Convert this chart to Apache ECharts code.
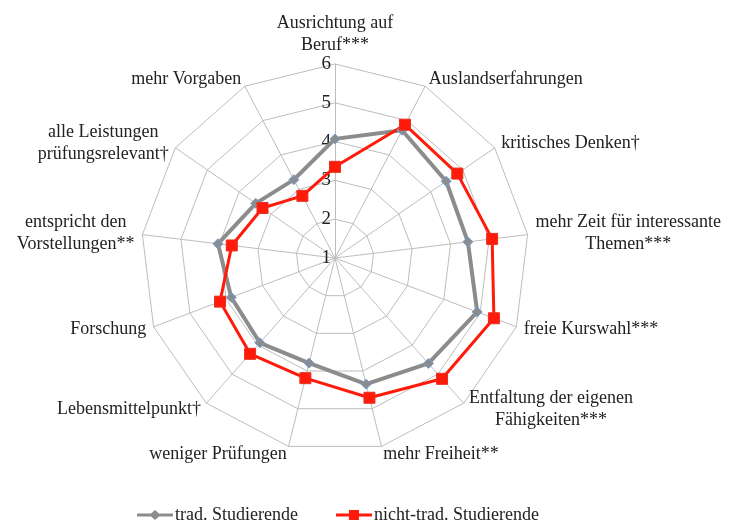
<!DOCTYPE html>
<html lang="de">
<head>
    <meta charset="UTF-8">
    <title>Radar</title>
    <script src="https://cdn.jsdelivr.net/npm/echarts@6/dist/echarts.min.js"></script>
</head>
<body style="margin:0">
<div id="main" style="width: 729px;height:524px;"></div>
<script>
    // Achsen im Uhrzeigersinn ab oben
    var categories = [
        'Ausrichtung auf\nBeruf***',
        'Auslandserfahrungen',
        'kritisches Denken†',
        'mehr Zeit für interessante\nThemen***',
        'freie Kurswahl***',
        'Entfaltung der eigenen\nFähigkeiten***',
        'mehr Freiheit**',
        'weniger Prüfungen',
        'Lebensmittelpunkt†',
        'Forschung',
        'entspricht den\nVorstellungen**',
        'alle Leistungen\nprüfungsrelevant†',
        'mehr Vorgaben'
    ];
    var tradValues = [4.07, 4.72, 4.48, 4.45, 4.92, 4.63, 4.35, 3.79, 3.92, 3.86, 4.04, 3.48, 3.28];
    var nichtTradValues = [3.35, 4.88, 4.83, 5.08, 5.38, 5.16, 4.71, 4.19, 4.30, 4.17, 3.68, 3.27, 2.81];
    var seriesNames = ['trad. Studierende', 'nicht-trad. Studierende'];
    var scaleMin = 1, scaleMax = 6;

    // echarts radar laeuft gegen den Uhrzeigersinn -> erste Achse oben lassen, Rest umdrehen
    function cw(arr) {
        return [arr[0]].concat(arr.slice(1).reverse());
    }

    var font = 'Liberation Serif';
    var myChart = echarts.init(document.getElementById('main'));

    var indicators = cw(categories).map(function (c) {
        return {name: c, min: scaleMin, max: scaleMax};
    });

    // Legendensymbol: Linie mit Marker in der Mitte
    var iconTrad = 'path://M0,4.5L14,4.5L18,1L22,4.5L36,4.5L36,7.5L22,7.5L18,11L14,7.5L0,7.5Z';
    var iconNicht = 'path://M0,4.5L13,4.5L13,1L23,1L23,4.5L36,4.5L36,7.5L23,7.5L23,11L13,11L13,7.5L0,7.5Z';

    var option = {
        animation: false,
        textStyle: {fontFamily: font},
        legend: {
            top: 501,
            left: 132,
            itemWidth: 36,
            itemHeight: 12,
            itemGap: 38,
            textStyle: {fontFamily: font, fontSize: 18, color: '#222', padding: [0, 0, 0, -3]},
            data: [
                {name: seriesNames[0], icon: iconTrad, itemStyle: {color: '#8c8c8c', borderWidth: 0}},
                {name: seriesNames[1], icon: iconNicht, itemStyle: {color: '#ff1a0a', borderWidth: 0}}
            ]
        },
        radar: [{
            center: [335, 258],
            radius: 194,
            startAngle: 90,
            splitNumber: 5,
            shape: 'polygon',
            indicator: indicators,
            axisName: {
                color: '#222', fontFamily: font, fontSize: 18, lineHeight: 22,
                formatter: function (name) {
                    return name.split('\n').map(function (l) {
                        return '{c|' + l + '}';
                    }).join('\n');
                },
                rich: {
                    c: {align: 'center', color: '#222', fontFamily: font, fontSize: 18, lineHeight: 22}
                }
            },
            nameGap: 8,
            splitLine: {lineStyle: {color: '#bdbdbd', width: 1}},
            splitArea: {show: false},
            axisLine: {lineStyle: {color: '#bdbdbd', width: 1}},
            axisTick: {show: false},
            axisLabel: {show: false}
        }, {
            // nur die Skalenbeschriftung 1-6 an der oberen Achse
            center: [335, 258],
            radius: 194,
            startAngle: 90,
            splitNumber: 5,
            shape: 'polygon',
            indicator: [{name: '', min: scaleMin, max: scaleMax}],
            splitLine: {show: false},
            splitArea: {show: false},
            axisLine: {show: false},
            axisTick: {show: false},
            axisLabel: {
                show: true, color: '#222', fontFamily: font, fontSize: 19,
                margin: 4, showMinLabel: true
            }
        }],
        series: [{
            name: seriesNames[0],
            type: 'radar',
            radarIndex: 0,
            symbol: 'diamond',
            symbolSize: 10,
            lineStyle: {color: '#8c8c8c', width: 4},
            itemStyle: {color: '#8c8c8c', borderColor: '#6f9fd8', borderWidth: 1},
            data: [{value: cw(tradValues), name: seriesNames[0]}]
        }, {
            name: seriesNames[1],
            type: 'radar',
            radarIndex: 0,
            symbol: 'rect',
            symbolSize: 11,
            lineStyle: {color: '#ff1a0a', width: 3},
            itemStyle: {color: '#ff1a0a', borderColor: '#e83020', borderWidth: 1},
            data: [{value: cw(nichtTradValues), name: seriesNames[1]}]
        }]
    };

    myChart.setOption(option);
</script>
</body>
</html>
